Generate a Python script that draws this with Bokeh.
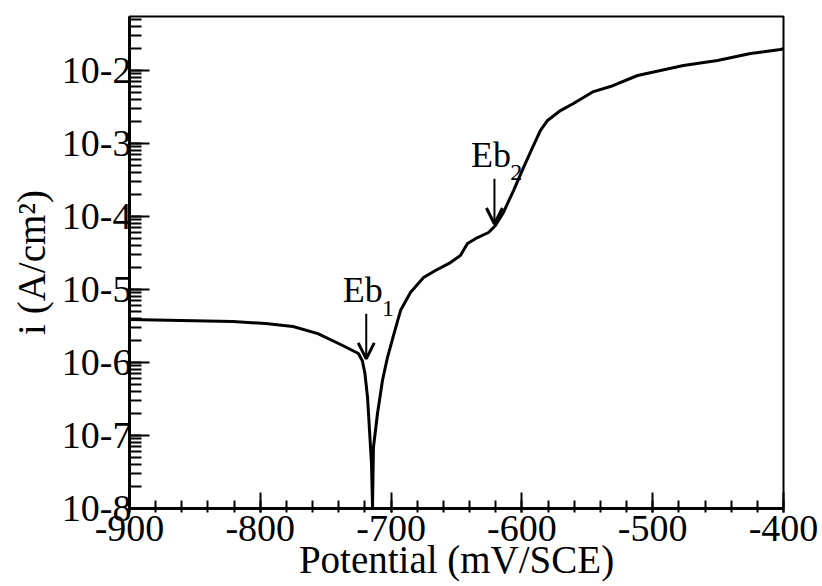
import math
from bokeh.plotting import figure
from bokeh.models import (SingleIntervalTicker, LogTicker, CustomJSTickFormatter,
                          Label, Arrow, OpenHead)
from bokeh.embed import file_html
from bokeh.resources import INLINE

# ---- data ----
potential = [-900, -821, -796, -775, -756, -737, -725, -722, -720, -718, -716.5, -715, -714.2,
             -713.5, -710.4, -706.6, -702.8, -698.2, -692.8, -685.2, -675.2, -666.1, -654.6,
             -647.0, -641.6, -633.9, -625.5, -620.2, -614.1, -606.4, -598.8, -591.9, -585.8,
             -580.4, -570.5, -560.6, -545.3, -532.3, -511.6, -476.5, -450.5, -425.2, -402.3, -400]
current = [3.88e-6, 3.65e-6, 3.42e-6, 3.11e-6, 2.49e-6, 1.71e-6, 1.33e-6, 1.06e-6, 7.06e-7,
           3.32e-7, 1.17e-7, 4.13e-8, 1.05e-8,
           6.85e-8, 2.00e-7, 5.66e-7, 1.17e-6, 2.34e-6, 5.15e-6, 9.10e-6, 1.46e-5, 1.82e-5, 2.34e-5,
           2.92e-5, 4.27e-5, 5.15e-5, 6.04e-5, 7.53e-5, 1.14e-4, 2.27e-4, 4.69e-4, 8.81e-4, 1.51e-3,
           2.07e-3, 2.83e-3, 3.53e-3, 5.15e-3, 6.04e-3, 8.55e-3, 1.17e-2, 1.37e-2, 1.71e-2, 1.94e-2, 2.0e-2]

breakdown_names = ["1", "2"]
breakdown_potential = [-719, -621]
breakdown_current = [1.12e-6, 7.9e-5]

x_label = "Potential (mV/SCE)"
y_label = "i (A/cm\u00b2)"

FONT = "Liberation Serif"

p = figure(width=822, height=586, x_range=(-900, -400), y_range=(1e-8, 0.055),
           y_axis_type="log", output_backend="svg", toolbar_location=None,
           min_border_left=129, min_border_right=39, min_border_top=16, min_border_bottom=78)
p.grid.visible = False
p.outline_line_color = "black"
p.outline_line_width = 2
p.outline_line_alpha = 1.0

p.line(potential, current, line_color="black", line_width=3)

# axes
xa = p.xaxis[0]
xa.ticker = SingleIntervalTicker(interval=100, num_minor_ticks=5)
xa.formatter = CustomJSTickFormatter(code="return tick.toFixed(0);")
ya = p.yaxis[0]
ya.ticker = LogTicker(num_minor_ticks=10)
ya.formatter = CustomJSTickFormatter(code="return '10-' + Math.round(-Math.log10(tick));")

for ax in (xa, ya):
    ax.axis_line_width = 3
    ax.axis_line_color = "black"
    ax.major_tick_line_width = 2
    ax.minor_tick_line_width = 2
    ax.major_label_text_font = FONT
    ax.major_label_text_font_size = "38px"
    ax.major_label_text_color = "black"
    ax.axis_label_text_font = FONT
    ax.axis_label_text_font_style = "normal"
    ax.axis_label_text_font_size = "39px"
    ax.axis_label_text_color = "black"

xa.major_tick_in = 16
xa.major_tick_out = 4
xa.minor_tick_in = 8
xa.minor_tick_out = 4
xa.major_label_standoff = 3
xa.axis_label = x_label
xa.axis_label_standoff = -6

ya.major_tick_in = 20
ya.major_tick_out = 0
ya.minor_tick_in = 12
ya.minor_tick_out = 0
ya.major_label_standoff = -2
ya.axis_label = y_label
ya.axis_label_standoff = 6

# breakdown annotations
sub_shift = [0.07, 0.09]
for name, bx, by, sh in zip(breakdown_names, breakdown_potential, breakdown_current, sub_shift):
    top = by * 10 ** 0.62
    p.add_layout(Arrow(x_start=bx, y_start=top, x_end=bx, y_end=by,
                       line_width=2, line_color="black",
                       end=OpenHead(size=16, line_width=3, line_color="black")))
    p.add_layout(Label(x=bx - 18, y=top * 10 ** 0.32, text="Eb", text_align="left",
                       text_baseline="alphabetic", text_font=FONT,
                       text_font_size="36px", text_color="black"))
    p.add_layout(Label(x=bx + 12, y=top * 10 ** sh, text=name, text_align="left",
                       text_baseline="alphabetic", text_font=FONT,
                       text_font_size="24px", text_color="black"))

open("out.html", "w").write(file_html(p, INLINE))
